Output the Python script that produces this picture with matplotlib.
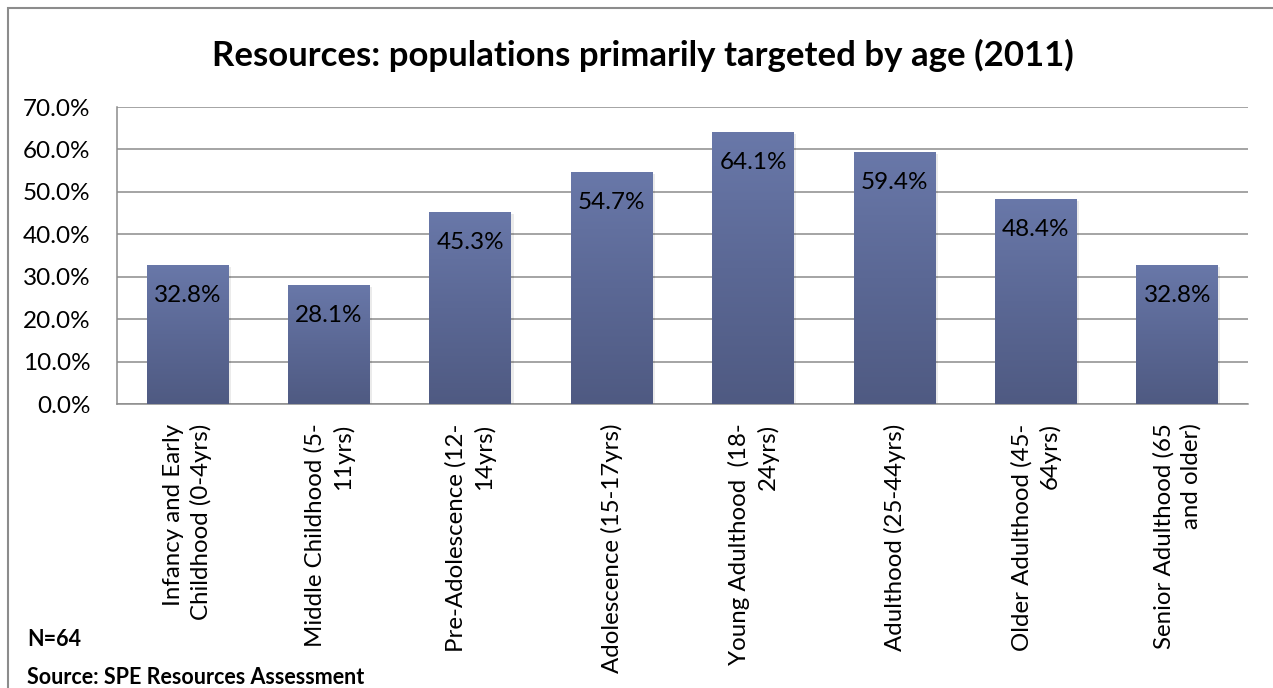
import numpy as np
import matplotlib
matplotlib.use("Agg")
import matplotlib.pyplot as plt
from matplotlib.patches import Rectangle
import matplotlib.patheffects as pe
from matplotlib.colors import LinearSegmentedColormap

plt.rcParams['font.family'] = ['Lato', 'DejaVu Sans']

categories = [
    "Infancy and Early\nChildhood (0-4yrs)",
    "Middle Childhood (5-\n11yrs)",
    "Pre-Adolescence (12-\n14yrs)",
    "Adolescence (15-17yrs)",
    "Young Adulthood  (18-\n24yrs)",
    "Adulthood (25-44yrs)",
    "Older Adulthood (45-\n64yrs)",
    "Senior Adulthood (65\nand older)",
]
values = [32.8, 28.1, 45.3, 54.7, 64.1, 59.4, 48.4, 32.8]
yticks = [0, 10, 20, 30, 40, 50, 60, 70]

title = "Resources: populations primarily targeted by age (2011)"
note_n = "N=64"
note_src = "Source: SPE Resources Assessment"

W, H = 1273, 688
fig = plt.figure(figsize=(W / 100, H / 100), dpi=100)
fig.patch.set_facecolor("white")

# outer chart frame
frame = Rectangle((8 / W, -0.05), 1.2, 1 - 8 / H + 0.05, transform=fig.transFigure,
                  fill=False, edgecolor="#8c8c8c", linewidth=1.5)
fig.add_artist(frame)

ax = fig.add_axes([117 / W, 1 - 404 / H, (1248 - 117) / W, (404 - 107) / H])
x = np.arange(len(values))
ax.set_xlim(-0.5, len(values) - 0.5)
ax.set_ylim(0, 70)

ax.yaxis.grid(True, color="#8c8c8c", linewidth=1.1)
ax.set_axisbelow(True)
for s in ["top", "right"]:
    ax.spines[s].set_visible(False)
for s in ["left", "bottom"]:
    ax.spines[s].set_color("#8c8c8c")
    ax.spines[s].set_linewidth(1.1)
ax.tick_params(length=0)

cmap = LinearSegmentedColormap.from_list("bar", ["#4f5a82", "#5b6895", "#6978a9"])
grad = np.linspace(0, 1, 256).reshape(-1, 1)

bars = ax.bar(x, values, width=0.58, color="#5b6895", zorder=2)
for b in bars:
    b.set_path_effects([pe.SimplePatchShadow(offset=(1.5, -1.5), shadow_rgbFace="#000000", alpha=0.08),
                        pe.Normal()])
    bx, bw, bh = b.get_x(), b.get_width(), b.get_height()
    im = ax.imshow(grad, cmap=cmap, origin="lower", aspect="auto",
                   extent=(bx, bx + bw, 0, bh), zorder=3, interpolation="bicubic")
    im.set_clip_path(b)

for xi, v in zip(x, values):
    ax.annotate(f"{v:.1f}%", (xi, v), xytext=(0, -22), textcoords="offset points",
                ha="center", va="center", fontsize=17.5, color="black", zorder=4)

ax.set_yticks(yticks)
ax.set_yticklabels([f"{t:.1f}%" for t in yticks], fontsize=17.5)
ax.tick_params(axis="y", pad=19)
ax.set_xticks(x)
ax.set_xticklabels(categories, rotation=90, fontsize=17.3, ha="center", va="top",
                   multialignment="right", linespacing=1.35)
ax.tick_params(axis="x", pad=14)

fig.text(643 / W, 1 - 55 / H, title, ha="center", va="center",
         fontsize=25, fontweight="bold")
fig.text(27 / W, 1 - 640 / H, note_n, ha="left", va="center", fontsize=15.5, fontweight="bold")
fig.text(27 / W, 1 - 677 / H, note_src, ha="left", va="center", fontsize=15.5, fontweight="bold")

fig.savefig("out.png", dpi=100, facecolor="white")
